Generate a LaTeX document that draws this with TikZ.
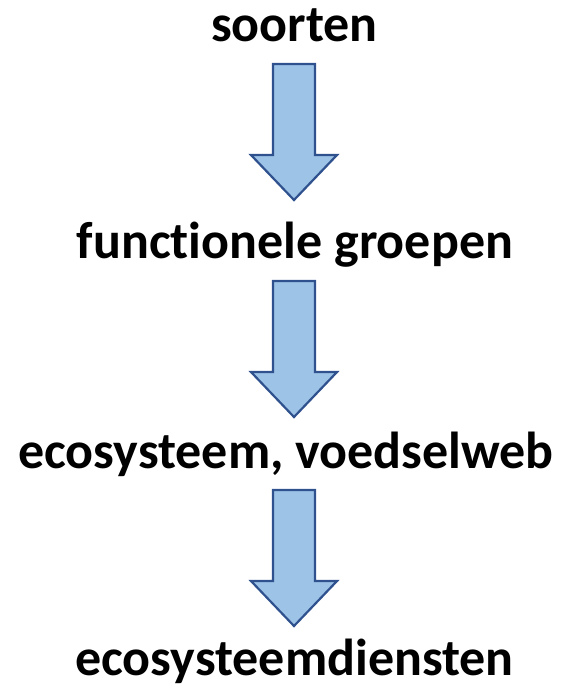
\documentclass[tikz,border=0pt]{standalone}
\usepackage{fontspec}
\setmainfont[Ligatures={NoCommon}]{Carlito}
\usetikzlibrary{positioning,calc}
\definecolor{arrowfill}{RGB}{157,195,230}
\definecolor{arrowborder}{RGB}{47,82,143}

\begin{document}
\begin{tikzpicture}[
  x=1pt, y=-1pt,
  level/.style={
    font=\fontsize{52}{60}\selectfont\bfseries,
    anchor=base,
    inner sep=0pt
  },
  blockarrow/.pic={
    \draw[arrowborder, fill=arrowfill, line width=2.2pt, line join=miter]
      (-21,0) -- (21,0) -- (21,91) -- (43,91) -- (0,136)
      -- (-43,91) -- (-21,91) -- cycle;
  }
]
\useasboundingbox (0,0) rectangle (569,689);

% ------------------------------------------------------------------
% Levels
% ------------------------------------------------------------------
\node[level] (species) at (294.5,41) {soorten};
\node[level] (groups) at (295,258) {functionele groepen};
\node[level] (foodweb) at (286,468) {ecosysteem, voedselweb};
\node[level] (services) at (294.5,675) {ecosysteemdiensten};

% ------------------------------------------------------------------
% Block arrows between levels
% ------------------------------------------------------------------
\pic (arrowA) at (294,64) {blockarrow};
\pic (arrowB) at (294,281) {blockarrow};
\pic (arrowC) at (294,490) {blockarrow};

\end{tikzpicture}
\end{document}
